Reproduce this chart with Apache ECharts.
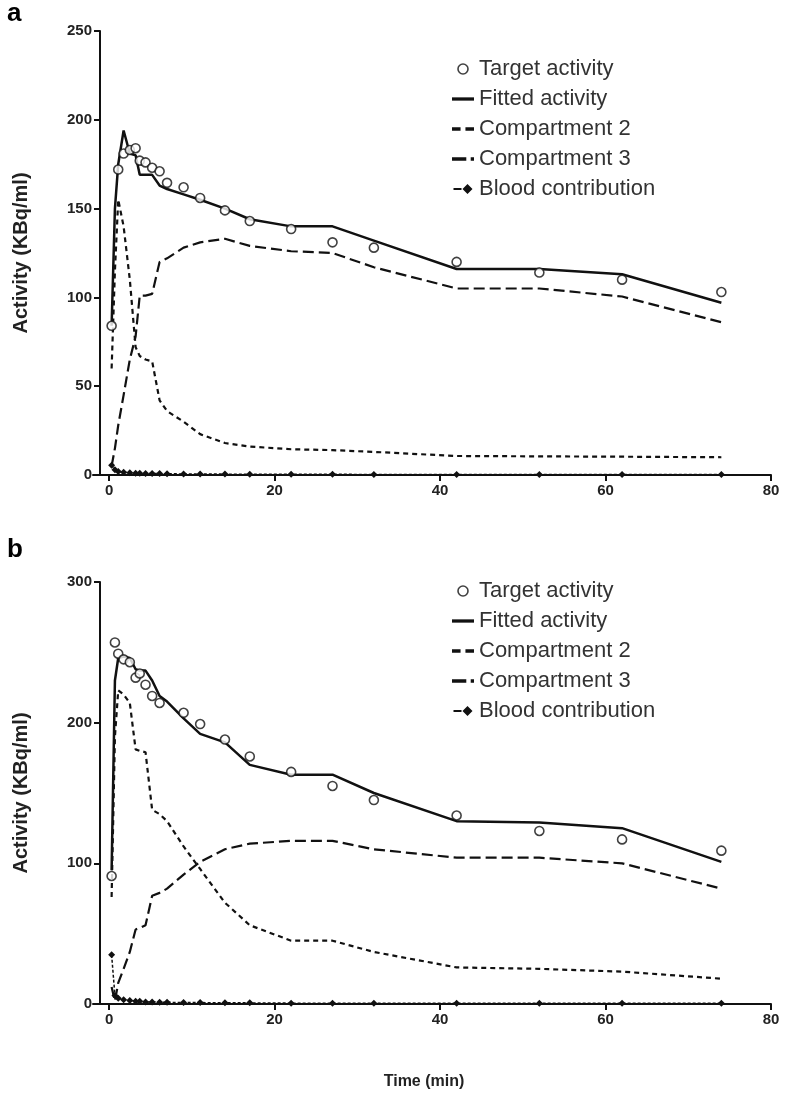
<!DOCTYPE html>
<html>
<head>
<meta charset="utf-8">
<script src="https://cdn.jsdelivr.net/npm/echarts@6/dist/echarts.min.js"></script>
<style>
html, body { margin: 0; padding: 0; background: #fff; }
#main { width: 788px; height: 1108px; }
</style>
</head>
<body>
<div id="main"></div>
<script>
// frame mid times (min), shared by both panels
var times = [0.3, 0.7, 1.1, 1.75, 2.5, 3.2, 3.7, 4.4, 5.2, 6.1, 7, 9, 11, 14, 17, 22, 27, 32, 42, 52, 62, 74];
var xTicks = [0, 20, 40, 60, 80];

// panel a
var targetA = [84, null, 172, 181, 183, 184, 177, 176, 173, 171, 164.5, 162, 156, 149, 143, 138.5, 131, 128, 120, 114, 110, 103];
var fittedA = [84, 150, 175, 194, 181, 180, 169, 169, 169, 163, 161, 158, 155, 150, 144, 140, 140, 132, 116, 116, 113, 97];
var comp2A = [60, 115, 155, 140, 110, 72, 67, 65, 64, 42, 36, 30, 23, 18, 16, 14.5, 14, 13, 10.7, 10.5, 10.3, 10];
var comp3A = [5, 15, 28, 45, 65, 78, 101, 101, 102, 120, 122, 128, 131, 133, 129, 126, 125, 117, 105, 105, 100.5, 86];
var bloodA = [5.5, 3, 2, 1.5, 1.2, 1, 1, 0.9, 0.8, 0.8, 0.7, 0.6, 0.5, 0.5, 0.4, 0.4, 0.4, 0.3, 0.3, 0.3, 0.3, 0.3];

// panel b
var targetB = [91, 257, 249, 245, 243, 232, 235, 227, 219, 214, null, 207, 199, 188, 176, 165, 155, 145, 134, 123, 117, 109];
var fittedB = [95, 230, 246, 247, 246, 238, 237, 237, 230, 219, 215, 203, 192, 186, 170, 163, 163, 150, 130, 129, 125, 101];
var comp2B = [76, 190, 223, 220, 214, 181, 180, 179, 138, 135, 130, 112, 96, 72, 56, 45, 45, 37, 26, 25, 23, 18];
var comp3B = [12, 2, 15, 25, 37, 53, 54, 56, 77, 79, 82, 92, 101, 110, 114, 116, 116, 110, 104, 104, 100, 82];
var bloodB = [35, 6, 4, 3, 2.5, 2, 2, 1.5, 1.5, 1.2, 1.2, 1, 1, 0.8, 0.8, 0.6, 0.6, 0.5, 0.5, 0.5, 0.5, 0.5];

var names = ['Target activity', 'Fitted activity', 'Compartment 2', 'Compartment 3', 'Blood contribution'];

function pairs(vals) {
    var out = [];
    for (var i = 0; i < times.length; i++) {
        if (vals[i] != null) out.push([times[i], vals[i]]);
    }
    return out;
}

var font = '"Liberation Sans", Arial, sans-serif';
var ink = '#111';

function panelSeries(idx, target, fitted, comp2, comp3, blood) {
    return [
        {
            name: names[1], type: 'line', xAxisIndex: idx, yAxisIndex: idx,
            data: pairs(fitted), symbol: 'none', z: 3,
            lineStyle: { color: ink, width: 2.5 }, itemStyle: { color: ink }
        },
        {
            name: names[2], type: 'line', xAxisIndex: idx, yAxisIndex: idx,
            data: pairs(comp2), symbol: 'none', z: 2,
            lineStyle: { color: ink, width: 2.2, type: [5, 4] }, itemStyle: { color: ink }
        },
        {
            name: names[3], type: 'line', xAxisIndex: idx, yAxisIndex: idx,
            data: pairs(comp3), symbol: 'none', z: 2,
            lineStyle: { color: ink, width: 2.2, type: [11, 5] }, itemStyle: { color: ink }
        },
        {
            name: names[4], type: 'line', xAxisIndex: idx, yAxisIndex: idx,
            data: pairs(blood), symbol: 'diamond', symbolSize: 7, z: 4,
            lineStyle: { color: ink, width: 1.5, type: [3, 2] }, itemStyle: { color: ink }
        },
        {
            name: names[0], type: 'scatter', xAxisIndex: idx, yAxisIndex: idx,
            data: pairs(target), symbol: 'circle', symbolSize: 9, z: 5,
            itemStyle: { color: '#fff', borderColor: ink, borderWidth: 1.6 }
        }
    ];
}

function xAxisOf(idx, withName) {
    var ax = {
        gridIndex: idx, type: 'value', min: -1.95, max: 80,
        axisLine: { onZero: false, lineStyle: { color: ink, width: 2 } },
        axisTick: { customValues: xTicks, length: 6, lineStyle: { color: ink, width: 2 } },
        axisLabel: { customValues: xTicks, color: '#222', fontFamily: font, fontSize: 15, fontWeight: 'bold', margin: 8 },
        splitLine: { show: false }
    };
    if (withName) {
        ax.name = 'Time (min)';
        ax.nameLocation = 'middle';
        ax.nameGap = 70;
        ax.nameTextStyle = { color: '#222', fontFamily: font, fontSize: 16, fontWeight: 'bold', padding: [0, 16, 0, 0] };
    }
    return ax;
}

function yAxisOf(idx, max, step) {
    return {
        gridIndex: idx, type: 'value', min: 0, max: max, interval: step, offset: -7,
        name: 'Activity (KBq/ml)', nameLocation: 'middle', nameGap: 69,
        nameTextStyle: { color: '#222', fontFamily: font, fontSize: 20, fontWeight: 'bold' },
        axisLine: { show: true, onZero: false, lineStyle: { color: ink, width: 2 } },
        axisTick: { show: true, length: 6, lineStyle: { color: ink, width: 2 } },
        axisLabel: { color: '#222', fontFamily: font, fontSize: 15, fontWeight: 'bold', margin: 8 },
        splitLine: { show: false }
    };
}

function legendOf(top) {
    return {
        orient: 'vertical', left: 447, top: top, itemGap: 8, itemWidth: 22, itemHeight: 10,
        data: [
            { name: names[0], icon: 'circle', itemStyle: { color: '#fff', borderColor: ink, borderWidth: 1.6 } },
            { name: names[1], icon: 'path://M0,0h20v3h-20z' },
            { name: names[2], icon: 'path://M0,0h7v3h-7z M11,0h7v3h-7z' },
            { name: names[3], icon: 'path://M0,0h13v3h-13z M17,0h3v3h-3z' },
            { name: names[4], icon: 'path://M0,4h8v2h-8z M9,5L14,0L19,5L14,10Z' }
        ],
        textStyle: { color: '#333', fontFamily: font, fontSize: 22, lineHeight: 22 }
    };
}

var myChart = echarts.init(document.getElementById('main'));

var option = {
    backgroundColor: '#fff',
    animation: false,
    title: [
        { text: 'a', left: 2, top: -4, textStyle: { fontFamily: font, fontSize: 26, fontWeight: 'bold', color: '#000' } },
        { text: 'b', left: 2, top: 532, textStyle: { fontFamily: font, fontSize: 26, fontWeight: 'bold', color: '#000' } }
    ],
    legend: [legendOf(53), legendOf(575)],
    grid: [
        { left: 93, right: 17, top: 31, height: 444 },
        { left: 93, right: 17, top: 582, height: 422 }
    ],
    xAxis: [xAxisOf(0, false), xAxisOf(1, true)],
    yAxis: [yAxisOf(0, 250, 50), yAxisOf(1, 300, 100)],
    series: panelSeries(0, targetA, fittedA, comp2A, comp3A, bloodA)
        .concat(panelSeries(1, targetB, fittedB, comp2B, comp3B, bloodB))
};

myChart.setOption(option);
</script>
</body>
</html>
